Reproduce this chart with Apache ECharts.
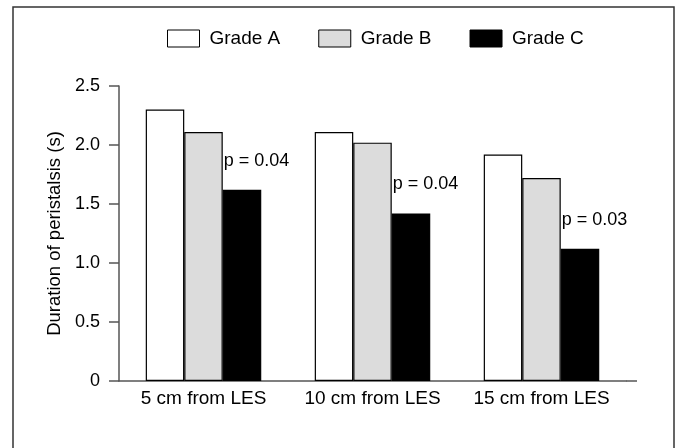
<!DOCTYPE html>
<html>
<head>
<meta charset="utf-8">
<script src="https://cdn.jsdelivr.net/npm/echarts@6/dist/echarts.min.js"></script>
<style>html,body{margin:0;padding:0;background:#fff}#c{width:680px;height:448px}</style>
</head>
<body>
<div id="c"></div>
<script>
const categories = ['5 cm from LES', '10 cm from LES', '15 cm from LES'];
const gradeA = [2.30, 2.11, 1.92];
const gradeB = [2.11, 2.02, 1.72];
const gradeC = [1.62, 1.42, 1.12];
const pLabels = ['p = 0.04', 'p = 0.04', 'p = 0.03'];
const yTickLabels = ['0', '0.5', '1.0', '1.5', '2.0', '2.5'];
const seriesNames = ['Grade A', 'Grade B', 'Grade C'];

const FONT = 'Liberation Sans';
const chart = echarts.init(document.getElementById('c'), null, {renderer: 'canvas'});
const border = {borderColor: '#000', borderWidth: 1.2};
const option = {
  animation: false,
  backgroundColor: '#fff',
  textStyle: {fontFamily: FONT},
  legend: {
    left: 167, top: 29, padding: 0,
    icon: 'rect',
    itemWidth: 32, itemHeight: 17, itemGap: 38,
    data: seriesNames,
    textStyle: {fontFamily: FONT, fontSize: 19, color: '#000', padding: [0, 0, 0, 5]},
    itemStyle: {borderColor: '#000', borderWidth: 1}
  },
  grid: {left: 119, top: 86, width: 507, bottom: 67},
  xAxis: {
    type: 'category',
    data: categories,
    axisLine: {lineStyle: {color: '#555', width: 1.5}},
    axisTick: {show: false},
    axisLabel: {fontFamily: FONT, fontSize: 19, color: '#000', margin: 8,
      interval: 0, hideOverlap: false}
  },
  yAxis: {
    type: 'value', min: 0, max: 2.5, interval: 0.5,
    name: 'Duration of peristalsis (s)',
    nameLocation: 'middle', nameGap: 53,
    nameTextStyle: {fontFamily: FONT, fontSize: 18.5, color: '#000'},
    splitLine: {show: false},
    axisLine: {show: true, lineStyle: {color: '#555', width: 1.5}},
    axisTick: {show: true, length: 10, lineStyle: {color: '#555', width: 1.5}},
    axisLabel: {
      fontFamily: FONT, fontSize: 18, color: '#000', margin: 19,
      formatter: v => yTickLabels[Math.round(v / 0.5)]
    }
  },
  series: [
    {name: seriesNames[0], type: 'bar', data: gradeA, barWidth: 38.5, barGap: '0%',
     itemStyle: Object.assign({color: '#ffffff'}, border)},
    {name: seriesNames[1], type: 'bar', data: gradeB, barWidth: 38.5, barGap: '0%',
     itemStyle: Object.assign({color: '#dcdcdc'}, border)},
    {name: seriesNames[2], type: 'bar', data: gradeC, barWidth: 38.5, barGap: '0%',
     itemStyle: Object.assign({color: '#000000'}, border),
     label: {show: true, position: [1, -29], align: 'left', verticalAlign: 'middle',
       fontFamily: FONT, fontSize: 18, color: '#000',
       formatter: p => pLabels[p.dataIndex]}}
  ]
};
chart.setOption(option);
const y0 = chart.convertToPixel({yAxisIndex: 0}, 0);
chart.setOption({
  graphic: [
    {type: 'rect', silent: true, shape: {x: 13, y: 7, width: 661, height: 470},
     style: {fill: null, stroke: '#333', lineWidth: 1.5}},
    {type: 'line', silent: true, shape: {x1: 626, y1: y0, x2: 637, y2: y0},
     style: {stroke: '#555', lineWidth: 1.5}}
  ]
});
</script>
</body>
</html>
